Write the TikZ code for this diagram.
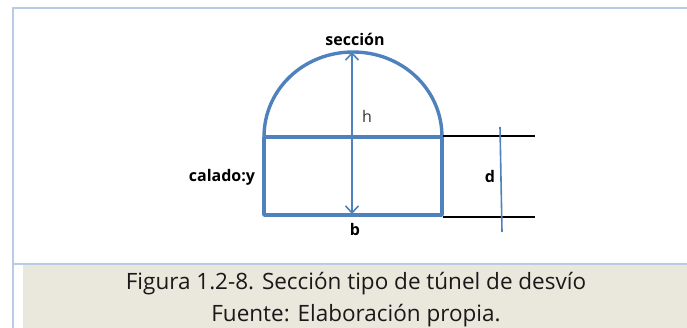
\documentclass[tikz,border=0pt]{standalone}
\usepackage{fontspec}
\setmainfont{Open Sans}
\usetikzlibrary{arrows.meta}
\definecolor{frameblue}{HTML}{B8CCE4}
\definecolor{tunnelblue}{HTML}{4F81BD}
\definecolor{capbg}{HTML}{EAE8DC}
\tikzset{
  tunnel/.style={draw=tunnelblue,line width=3.4pt},
  dim/.style={draw=tunnelblue,line width=1.6pt},
  blackline/.style={draw=black,line width=1.2pt},
  boldlabel/.style={font=\fontsize{16}{18}\selectfont\bfseries,inner sep=0pt},
  caption/.style={font=\fontsize{22.5}{32}\selectfont,inner sep=0pt,align=center,text=black!90}
}
\begin{document}
\begin{tikzpicture}[x=1pt,y=-1pt]
\useasboundingbox (0,0) rectangle (687,328);
\fill[capbg] (23,265) rectangle (687,328);
\draw[frameblue,line width=2.6pt] (13,328) -- (13,8) -- (687,8);
\draw[frameblue,line width=2.6pt] (13,264) -- (687,264);
\coordinate (bl) at (264,215);
\coordinate (br) at (442,215);
\coordinate (sl) at (264,137);
\coordinate (sr) at (442,137);
\coordinate (top) at (353,52);
\coordinate (tip) at (352,52);
\coordinate (bot) at (352,214);
\coordinate (t1a) at (443,136);
\coordinate (t1b) at (535,136);
\coordinate (t2a) at (443,217);
\coordinate (t2b) at (535,217);
\coordinate (da) at (500,127);
\coordinate (db) at (502,232);
\draw[tunnel,line join=round] (sl) -- (bl) -- (br) -- (sr);
\draw[tunnel] (sl) -- (sr);
\draw[tunnel] (sl) .. controls (264,89) and (304,52) .. (top) .. controls (402,52) and (442,89) .. (sr);
\draw[dim,{Straight Barb[length=7pt,width=13pt]}-{Straight Barb[length=7pt,width=13pt]}] (tip) -- (bot);
\draw[blackline] (t1a) -- (t1b);
\draw[blackline] (t2a) -- (t2b);
\draw[dim] (da) -- (db);
\node[boldlabel] (seccion) at (355,39) {sección};
\node[font=\fontsize{16}{18}\selectfont,inner sep=0pt,text=black!80] (h) at (367,116) {h};
\node[boldlabel] (calado) at (222,177) {calado:y};
\node[boldlabel] (d) at (490,177) {d};
\node[boldlabel] (b) at (355,230) {b};
\node[caption] (cap) at (356,300) {Figura 1.2-8. Sección tipo de túnel de desvío\\Fuente: Elaboración propia.};
\end{tikzpicture}
\end{document}
